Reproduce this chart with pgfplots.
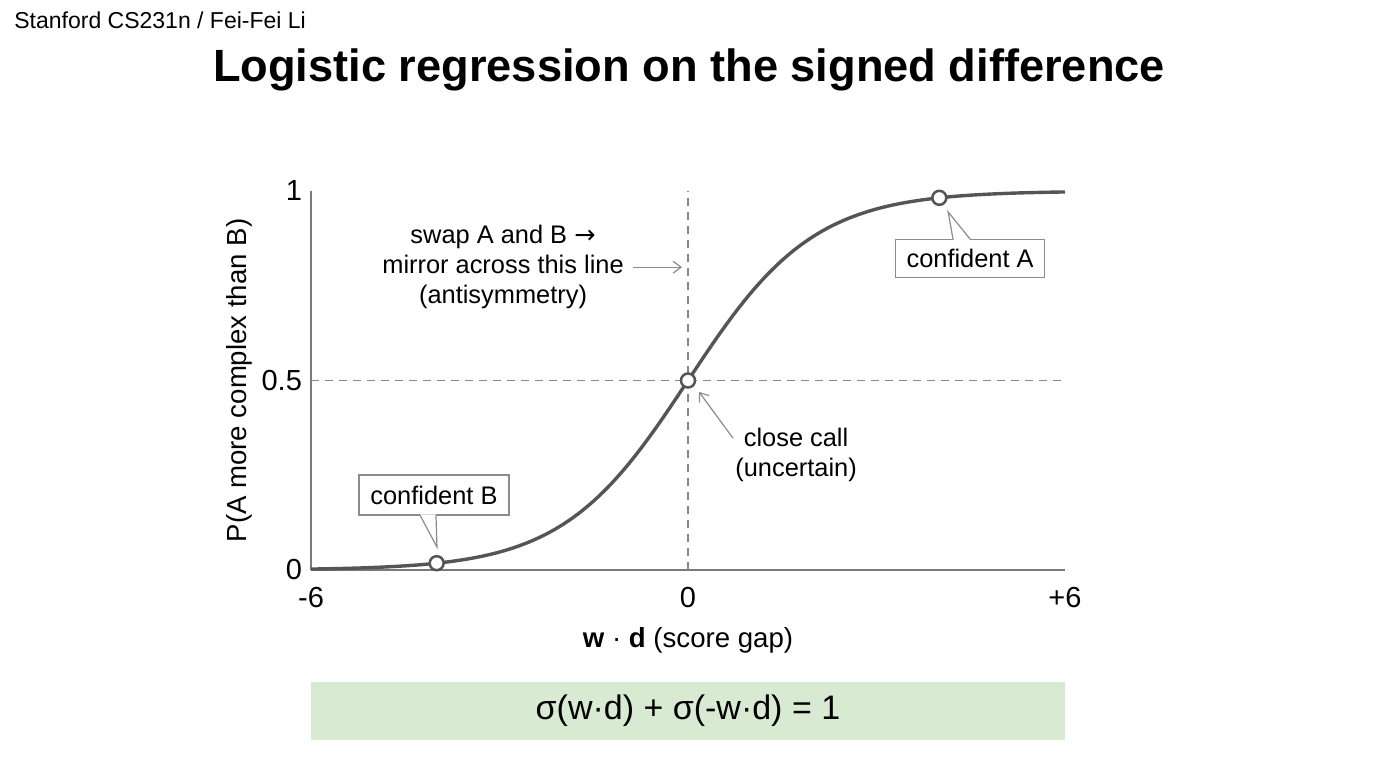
\documentclass[border=0pt]{standalone}
\usepackage{pgfplots}
\pgfplotsset{compat=1.18}
\usetikzlibrary{arrows.meta}
\usepackage{fontspec}
\setmainfont{Liberation Sans}
\newfontfamily\arrowfont{DejaVu Sans}
\definecolor{curvegray}{HTML}{555555}
\definecolor{dashgray}{HTML}{888888}
\definecolor{spinegray}{HTML}{7A7A7A}
\definecolor{boxgreen}{HTML}{D9EAD3}
\definecolor{calloutgray}{HTML}{8C8C8C}
\begin{document}
\begin{tikzpicture}[x=1pt,y=1pt]
\path[use as bounding box] (0,0) rectangle (688,384);
% header and title
\node[anchor=west,font=\fontsize{11.5}{13}\selectfont,inner sep=0pt] at (7,374) {Stanford CS231n / Fei-Fei Li};
\node[font=\fontsize{22.6}{26}\selectfont\bfseries] at (344.5,349) {Logistic regression on the signed difference};
\begin{axis}[
  at={(155.5pt,99pt)}, anchor=south west,
  width=377pt, height=189.5pt, scale only axis,
  xmin=-6, xmax=6, ymin=0, ymax=1,
  axis lines=left, axis line style={spinegray, line width=0.8pt, -},
  xtick={-6,0,6}, xticklabels={-6,0,+6},
  ytick={0,0.5,1}, yticklabels={0,0.5,1},
  major tick length=0pt,
  tick label style={font=\fontsize{14.5}{16}\selectfont},
  /pgf/number format/assume math mode=true,
  xticklabel style={yshift=-5pt},
  yticklabel style={xshift=-1pt},
  xlabel={\textbf{w} · \textbf{d} (score gap)},
  ylabel={P(A more complex than B)},
  label style={font=\fontsize{13.8}{16}\selectfont},
  xlabel style={yshift=-3pt},
  ylabel style={yshift=-2pt},
  clip=false,
]
\addplot[dashgray, line width=0.9pt, dash pattern=on 4pt off 3pt] coordinates {(0,0) (0,1)};
\addplot[dashgray, line width=0.9pt, dash pattern=on 4pt off 3pt] coordinates {(-6,0.5) (6,0.5)};
\addplot[curvegray, line width=1.7pt, smooth] coordinates {
(-6,0.0025) (-5.75,0.0032) (-5.5,0.0041) (-5.25,0.0052) (-5,0.0067) (-4.75,0.0086)
(-4.5,0.0110) (-4.25,0.0140) (-4,0.0180) (-3.75,0.0230) (-3.5,0.0293) (-3.25,0.0373)
(-3,0.0474) (-2.75,0.0601) (-2.5,0.0759) (-2.25,0.0953) (-2,0.1192) (-1.75,0.1480)
(-1.5,0.1824) (-1.25,0.2227) (-1,0.2689) (-0.75,0.3208) (-0.5,0.3775) (-0.25,0.4378)
(0,0.5) (0.25,0.5622) (0.5,0.6225) (0.75,0.6792) (1,0.7311) (1.25,0.7773)
(1.5,0.8176) (1.75,0.8520) (2,0.8808) (2.25,0.9047) (2.5,0.9241) (2.75,0.9399)
(3,0.9526) (3.25,0.9627) (3.5,0.9707) (3.75,0.9770) (4,0.9820) (4.25,0.9860)
(4.5,0.9890) (4.75,0.9914) (5,0.9933) (5.25,0.9948) (5.5,0.9959) (5.75,0.9968) (6,0.9975)};
\addplot[only marks, mark=*, mark size=3.5pt, mark options={fill=white, draw=curvegray, line width=1.25pt}] coordinates {(-4,0.0180) (0,0.5) (4,0.9820)};
% callout A
\node[draw=calloutgray, fill=white, line width=0.6pt, minimum width=74.5pt, minimum height=19pt, inner sep=0pt, font=\fontsize{12.7}{15}\selectfont] at (axis cs:4.49,0.821) {confident A};
\fill[white] (axis cs:4.22,0.869) -- (axis cs:4.14,0.945) -- (axis cs:4.50,0.869) -- cycle;
\draw[calloutgray, line width=0.6pt] (axis cs:4.22,0.871) -- (axis cs:4.14,0.945) -- (axis cs:4.50,0.871);
% callout B
\node[draw=calloutgray, fill=white, line width=0.6pt, minimum width=75pt, minimum height=20pt, inner sep=0pt, font=\fontsize{12.7}{15}\selectfont] at (axis cs:-4.043,0.198) {confident B};
\fill[white] (axis cs:-4.266,0.147) -- (axis cs:-3.995,0.0607) -- (axis cs:-4.011,0.147) -- cycle;
\draw[calloutgray, line width=0.6pt] (axis cs:-4.266,0.145) -- (axis cs:-3.995,0.0607) -- (axis cs:-4.011,0.145);
% close call
\node[align=center, font=\fontsize{12.7}{15}\selectfont] at (axis cs:1.72,0.303) {close call\\(uncertain)};
\draw[calloutgray, line width=0.6pt, -{Straight Barb[length=4pt,width=6pt]}] (axis cs:0.716,0.348) -- (axis cs:0.175,0.470);
% swap
\node[align=center, font=\fontsize{12.7}{15}\selectfont] at (axis cs:-2.944,0.799) {swap A and B {\arrowfont →}\\mirror across this line\\(antisymmetry)};
\draw[calloutgray, line width=0.6pt, -{Straight Barb[length=4pt,width=6pt]}] (axis cs:-0.875,0.799) -- (axis cs:-0.095,0.799);
\end{axis}
% formula box
\fill[boxgreen] (155.5,14) rectangle (532.5,43);
\node[font=\fontsize{17}{20}\selectfont] at (344,28.5) {σ(w·d) + σ(-w·d) = 1};
\end{tikzpicture}
\end{document}
